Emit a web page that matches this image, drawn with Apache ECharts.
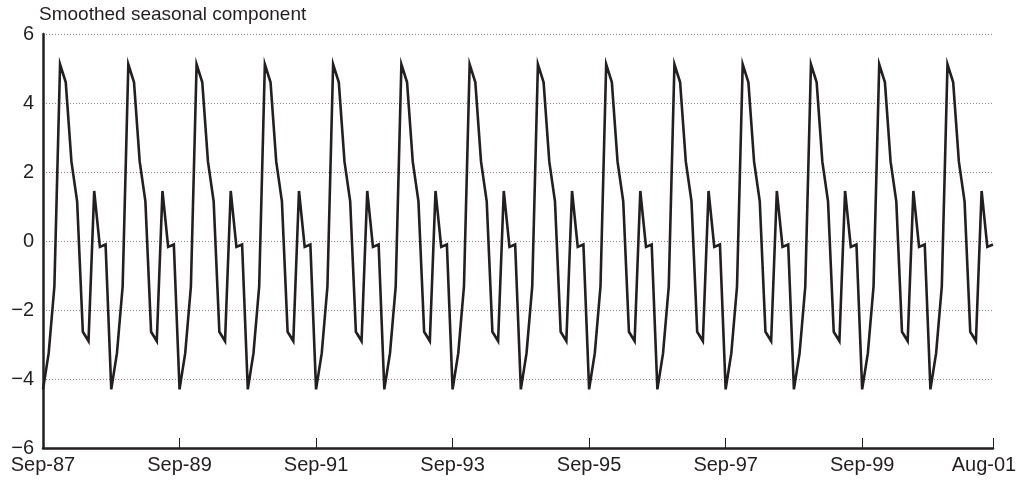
<!DOCTYPE html>
<html>
<head>
<meta charset="utf-8">
<script src="https://cdn.jsdelivr.net/npm/echarts@6/dist/echarts.min.js"></script>
<style>
  html, body { margin: 0; padding: 0; background: #fff; }
  #chart { width: 1019px; height: 481px; }
</style>
</head>
<body>
<div id="chart"></div>
<script>
// monthly seasonal component, Sep-87 .. Aug-01 (one row per year, Sep..Aug)
var values = [
    -4.3, -3.25, -1.32, 5.12, 4.6, 2.3, 1.15, -2.63, -2.9, 1.45, -0.17, -0.1,
    -4.3, -3.25, -1.32, 5.12, 4.6, 2.3, 1.15, -2.63, -2.9, 1.45, -0.17, -0.1,
    -4.3, -3.25, -1.32, 5.12, 4.6, 2.3, 1.15, -2.63, -2.9, 1.45, -0.17, -0.1,
    -4.3, -3.25, -1.32, 5.12, 4.6, 2.3, 1.15, -2.63, -2.9, 1.45, -0.17, -0.1,
    -4.3, -3.25, -1.32, 5.12, 4.6, 2.3, 1.15, -2.63, -2.9, 1.45, -0.17, -0.1,
    -4.3, -3.25, -1.32, 5.12, 4.6, 2.3, 1.15, -2.63, -2.9, 1.45, -0.17, -0.1,
    -4.3, -3.25, -1.32, 5.12, 4.6, 2.3, 1.15, -2.63, -2.9, 1.45, -0.17, -0.1,
    -4.3, -3.25, -1.32, 5.12, 4.6, 2.3, 1.15, -2.63, -2.9, 1.45, -0.17, -0.1,
    -4.3, -3.25, -1.32, 5.12, 4.6, 2.3, 1.15, -2.63, -2.9, 1.45, -0.17, -0.1,
    -4.3, -3.25, -1.32, 5.12, 4.6, 2.3, 1.15, -2.63, -2.9, 1.45, -0.17, -0.1,
    -4.3, -3.25, -1.32, 5.12, 4.6, 2.3, 1.15, -2.63, -2.9, 1.45, -0.17, -0.1,
    -4.3, -3.25, -1.32, 5.12, 4.6, 2.3, 1.15, -2.63, -2.9, 1.45, -0.17, -0.1,
    -4.3, -3.25, -1.32, 5.12, 4.6, 2.3, 1.15, -2.63, -2.9, 1.45, -0.17, -0.1,
    -4.3, -3.25, -1.32, 5.12, 4.6, 2.3, 1.15, -2.63, -2.9, 1.45, -0.17, -0.1
];
var monthNames = ['Jan','Feb','Mar','Apr','May','Jun','Jul','Aug','Sep','Oct','Nov','Dec'];
var tickLabels = ['Sep-87','Sep-89','Sep-91','Sep-93','Sep-95','Sep-97','Sep-99','Aug-01'];

// category names Sep-87 ... Aug-01
var months = [];
for (var i = 0; i < values.length; i++) {
    var m = (8 + i) % 12;
    var y = 87 + Math.floor((8 + i) / 12);
    months.push(monthNames[m] + '-' + String(y % 100).padStart(2, '0'));
}

var ink = '#231f20';
var font = 'Liberation Sans, Arial, Helvetica, sans-serif';
var lastIdx = months.length - 1;
function showTick(idx) {
    return tickLabels.indexOf(months[idx]) >= 0;
}

var myChart = echarts.init(document.getElementById('chart'));
var option = {
    animation: false,
    title: {
        text: 'Smoothed seasonal component',
        left: 39,
        top: 5,
        padding: 0,
        textStyle: { fontSize: 19, fontWeight: 'normal', color: ink, fontFamily: font }
    },
    grid: {
        left: 43, right: 26, top: 34, bottom: 33,
        containLabel: false,
        outerBoundsMode: 'none'
    },
    xAxis: {
        type: 'category',
        boundaryGap: false,
        data: months,
        axisLine: { onZero: false, lineStyle: { color: ink, width: 2.5 } },
        axisTick: { show: true, inside: true, length: 10, interval: showTick, lineStyle: { color: ink, width: 1 } },
        axisLabel: {
            interval: showTick,
            color: ink, fontSize: 20, fontFamily: font, margin: 7,
            formatter: function (v, idx) {
                return idx === lastIdx ? '{last|' + v + '}' : v;
            },
            rich: { last: { fontSize: 20, fontFamily: font, color: ink, padding: [0, 18, 0, 0] } }
        },
        splitLine: { show: false }
    },
    yAxis: {
        type: 'value',
        min: -6, max: 6, interval: 2,
        axisLine: { show: true, lineStyle: { color: ink, width: 2.5 } },
        axisTick: { show: false },
        axisLabel: {
            color: ink, fontSize: 20, fontFamily: font, margin: 9,
            formatter: function (v) { return String(v).replace('-', '\u2212'); }
        },
        splitLine: { lineStyle: { color: '#888', width: 1, type: [1, 2] } }
    },
    series: [{
        type: 'line',
        data: values,
        symbol: 'none',
        lineStyle: { color: ink, width: 2.6, join: 'miter' }
    }]
};
myChart.setOption(option);
</script>
</body>
</html>
